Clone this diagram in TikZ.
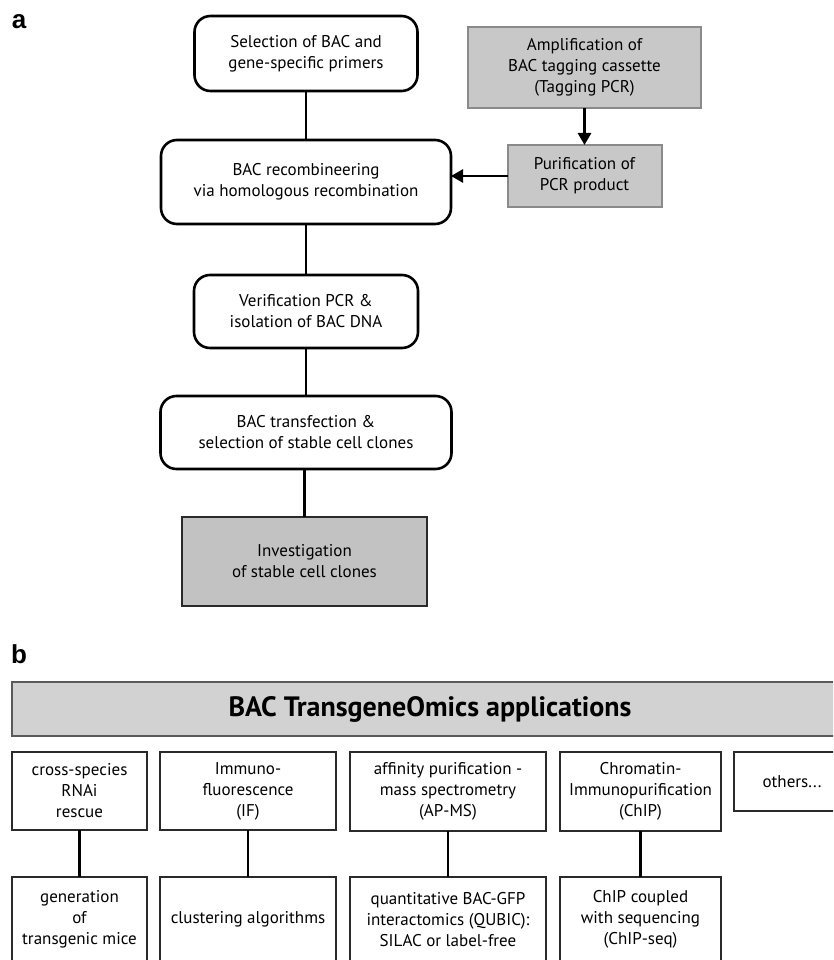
\documentclass[tikz,border=0pt]{standalone}
\usepackage{fontspec}
\setmainfont{PT Sans}
\newfontfamily\labelfont{Liberation Sans}
\usetikzlibrary{arrows.meta}
\definecolor{ampfill}{HTML}{C8C8C8}
\definecolor{ampdraw}{HTML}{8A8A8A}
\definecolor{invfill}{HTML}{C2C2C2}
\definecolor{darkline}{HTML}{2A2A2A}
\definecolor{headfill}{HTML}{D2D2D2}
\definecolor{headdraw}{HTML}{5A5A5A}
\begin{document}
\begin{tikzpicture}[x=1pt,y=-1pt,
  txt/.style={align=center, font=\fontsize{17}{21}\selectfont, inner sep=0pt, outer sep=0pt},
  flowbox/.style={txt, draw=black, line width=2.6pt, rounded corners=16pt, fill=white},
  graybox/.style={txt, draw=ampdraw, line width=2pt, fill=ampfill},
  investbox/.style={txt, draw=darkline, line width=2.6pt, fill=invfill},
  headbox/.style={txt, draw=headdraw, line width=1.8pt, fill=headfill, font=\fontsize{28}{31}\selectfont\bfseries},
  appbox/.style={txt, draw=darkline, line width=1.7pt, fill=white},
  conn/.style={line width=2.8pt, draw=black},
  arr/.style={conn, -{Triangle[length=12pt,width=13pt]}},
  panel/.style={font=\labelfont\bfseries\fontsize{26}{30}\selectfont, inner sep=0pt}
]
\useasboundingbox (0,0) rectangle (833,960);
\clip (0,0) rectangle (833,960);

% panel labels
\node[panel] (la) at (19,22) {a};
\node[panel] (lb) at (19,654) {b};

% panel a
\node[flowbox, minimum width=223pt, minimum height=75pt] (b1) at (306,53.5) {Selection of BAC and\\gene-specific primers};
\node[flowbox, minimum width=290pt, minimum height=84pt] (b2) at (306,182) {BAC recombineering\\via homologous recombination};
\node[flowbox, minimum width=224pt, minimum height=73pt] (b3) at (306,311.5) {Verification PCR \&\\isolation of BAC DNA};
\node[flowbox, minimum width=291pt, minimum height=73pt] (b4) at (306,432.5) {BAC transfection \&\\selection of stable cell clones};
\node[investbox, minimum width=245pt, minimum height=89pt] (b5) at (304.5,561.5) {Investigation\\of stable cell clones};

\node[graybox, minimum width=233pt, minimum height=81pt] (amp) at (584.5,67.5) {Amplification of\\BAC tagging cassette\\(Tagging PCR)};
\node[graybox, minimum width=154pt, minimum height=62pt] (pur) at (584.5,176) {Purification of\\PCR product};

\draw[conn] (b1.south) -- (b2.north);
\draw[conn] (b2.south) -- (b3.north);
\draw[conn] (b3.south) -- (b4.north);
\draw[conn] (b4.south -| b5.north) -- (b5.north);
\draw[arr] (amp.south) -- (pur.north);
\draw[arr] (pur.west) -- (pur.west -| b2.east);

% panel b
\node[headbox, minimum width=836pt, minimum height=54pt] (head) at (430,709) {BAC TransgeneOmics applications};

\node[appbox, minimum width=135pt, minimum height=78pt] (r1a) at (79.5,791) {cross-species\\RNAi\\rescue};
\node[appbox, minimum width=176pt, minimum height=78pt] (r1b) at (248,791) {Immuno-\\fluorescence\\(IF)};
\node[appbox, minimum width=196pt, minimum height=79pt] (r1c) at (448,791.5) {affinity purification -\\mass spectrometry\\(AP-MS)};
\node[appbox, minimum width=161pt, minimum height=79pt] (r1d) at (640.5,791.5) {Chromatin-\\Immunopurification\\(ChIP)};
\node[appbox, minimum width=116pt, minimum height=59pt] (r1e) at (792,781.5) {others...};

\node[appbox, minimum width=135pt, minimum height=85pt] (r2a) at (79.5,919.5) {generation\\of\\transgenic mice};
\node[appbox, minimum width=176pt, minimum height=85pt] (r2b) at (248,919.5) {clustering algorithms};
\node[appbox, minimum width=196pt, minimum height=85pt] (r2c) at (448,919.5) {quantitative BAC-GFP\\interactomics (QUBIC):\\SILAC or label-free};
\node[appbox, minimum width=161pt, minimum height=85pt] (r2d) at (640.5,919.5) {ChIP coupled\\with sequencing\\(ChIP-seq)};

\draw[conn] (r1a.south) -- (r2a.north);
\draw[conn] (r1b.south) -- (r2b.north);
\draw[conn] (r1c.south) -- (r2c.north);
\draw[conn] (r1d.south) -- (r2d.north);
\end{tikzpicture}
\end{document}
